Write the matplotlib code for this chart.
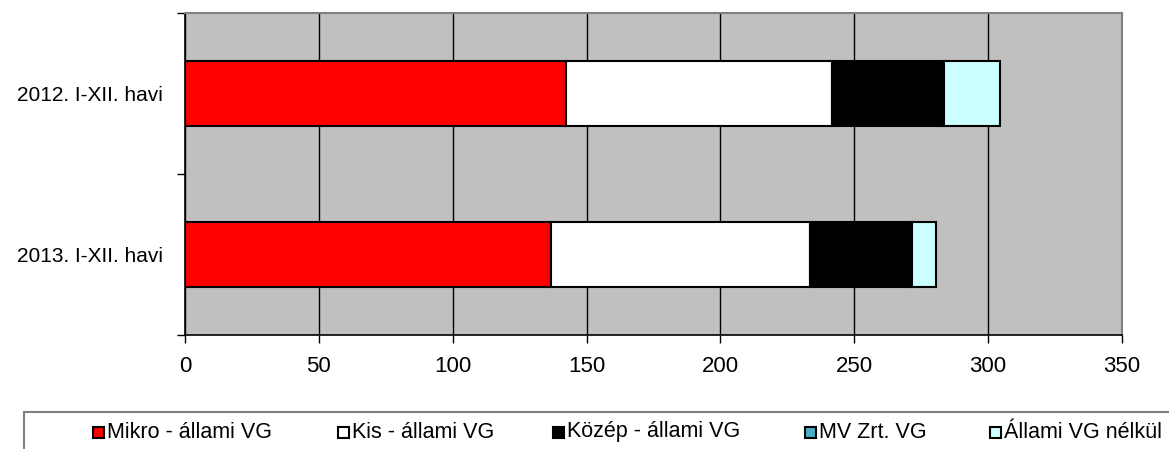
import matplotlib.pyplot as plt
from matplotlib.patches import Rectangle
import numpy as np

plt.rcParams['font.family'] = ['Liberation Sans', 'DejaVu Sans']

# adatok
categories = ['2012. I-XII. havi', '2013. I-XII. havi']
series_names = ['Mikro - állami VG', 'Kis - állami VG', 'Közép - állami VG',
                'MV Zrt. VG', 'Állami VG nélkül']
mikro = [142.2, 136.6]
kis = [99.5, 96.9]
kozep = [41.4, 37.6]
mv = [0.3, 0.3]
nelkul = [21.1, 9.2]
colors = ['#FF0000', '#FFFFFF', '#000000', '#4BACC6', '#CCFFFF']

W, H = 1169, 449
fig = plt.figure(figsize=(W / 100, H / 100), dpi=100)
ax = fig.add_axes([185 / W, 1 - 335 / H, (1122 - 185) / W, (335 - 13) / H])
ax.set_facecolor('#C0C0C0')

y = np.arange(len(categories))
left = np.zeros(len(categories))
for vals, col in zip([mikro, kis, kozep, mv, nelkul], colors):
    ax.barh(y, vals, left=left, height=0.4, color=col, edgecolor='black',
            linewidth=1.5, zorder=3)
    left += np.array(vals)

ax.set_xlim(0, 350)
ax.set_ylim(1.5, -0.5)
ax.set_xticks(np.arange(0, 351, 50))
ax.xaxis.grid(True, color='black', linewidth=1)
ax.set_axisbelow(True)

ax.set_yticks(y)
ax.set_yticklabels(categories)
ax.set_yticks([-0.5, 0.5, 1.5], minor=True)
ax.tick_params(axis='y', which='major', length=0, pad=16, labelsize=15)
ax.tick_params(axis='y', which='minor', length=6, width=1)
ax.tick_params(axis='x', length=6, width=1, labelsize=16, pad=9)

for s in ['top', 'right']:
    ax.spines[s].set_color('#808080')
    ax.spines[s].set_linewidth(1.5)
for s in ['left', 'bottom']:
    ax.spines[s].set_color('black')
    ax.spines[s].set_linewidth(1.2)

# jelmagyarázat (kézzel elhelyezve, mint az Excel-ben)
fig.patches.append(Rectangle((24 / W, -0.1), 1.2, (H - 412) / H + 0.1,
                             transform=fig.transFigure, facecolor='none',
                             edgecolor='#808080', linewidth=1.5))
marker_x = [93, 338, 553, 805, 990]
for mx, name, col in zip(marker_x, series_names, colors):
    fig.patches.append(Rectangle((mx / W, 1 - 438 / H), 11 / W, 11 / H,
                                 transform=fig.transFigure, facecolor=col,
                                 edgecolor='black', linewidth=1.5))
    fig.text((mx + 14) / W, 1 - 432 / H, name, fontsize=15.5,
             ha='left', va='center')

fig.savefig('out.png', dpi=100)
